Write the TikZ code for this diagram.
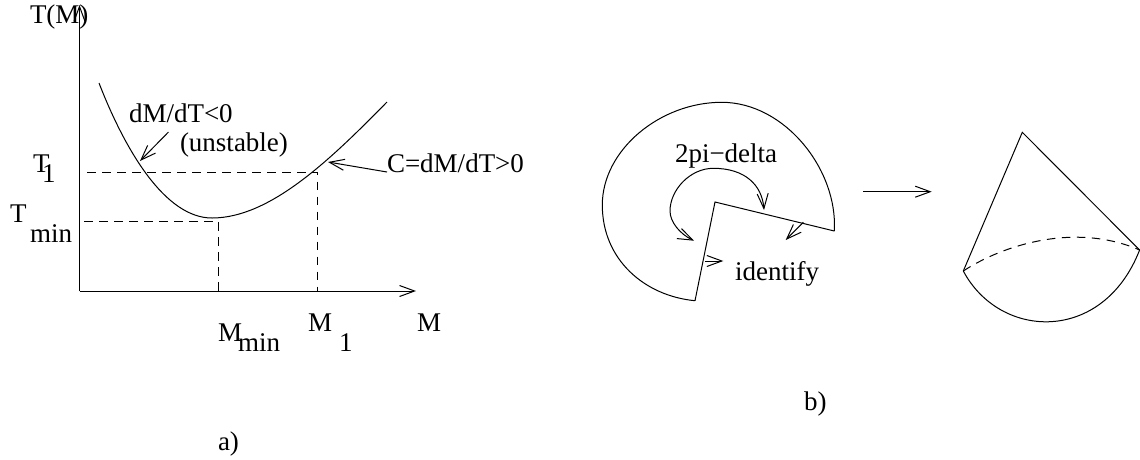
\documentclass[tikz,border=0pt]{standalone}
\usepackage{fontspec}
\setmainfont{Liberation Serif}
\usetikzlibrary{arrows.meta}
\tikzset{
  ink/.style={line width=1pt,black},
  dashline/.style={ink,dash pattern=on 8.5pt off 6.5pt},
  barb/.style={ink,-{Straight Barb[length=15pt,width=11pt,line width=1pt]}},
  twobarb/.style={ink,{Straight Barb[length=15pt,width=11pt,line width=1pt]}-{Straight Barb[length=15pt,width=11pt,line width=1pt]}},
  lab/.style={anchor=base west,inner sep=0pt,outer sep=0pt,font=\fontsize{27}{30}\selectfont},
}
\begin{document}
\begin{tikzpicture}[x=1pt,y=-1pt]
\useasboundingbox (0,0) rectangle (1140,459);
% axes
\coordinate (o) at (79.5,291);
\coordinate (ytip) at (79.5,5);
\coordinate (xtip) at (416,291);
\draw[barb] (o) -- (ytip);
\draw[barb] (o) -- (xtip);
% curve
\coordinate (cs) at (99,83);
\coordinate (cm) at (212,218);
\coordinate (ce) at (387,102);
\draw[ink] (cs) .. controls (125,150) and (165,218) .. (cm) .. controls (270,218) and (330,160) .. (ce);
% guides
\coordinate (t1) at (87,172);
\coordinate (p1) at (317.5,172);
\coordinate (m1) at (317.5,291);
\coordinate (t2) at (84,221);
\coordinate (p2) at (218,221);
\coordinate (m2) at (218,291);
\draw[dashline] (t1) -- (p1) -- (m1);
\draw[dashline] (t2) -- (p2) -- (m2);
% pointers
\coordinate (a1) at (168.5,132);
\coordinate (a2) at (140,161);
\coordinate (c1) at (387,172);
\coordinate (c2) at (328,162);
\draw[barb] (a1) -- (a2);
\draw[barb] (c1) -- (c2);
% labels a
\node[lab] (tm) at (30,23) {T(M)};
\node[lab] (tone) at (33,172) {T};
\node[lab] (toneb) at (42,182) {1};
\node[lab] (tmin) at (10,222) {T};
\node[lab] (tminb) at (30,242) {min};
\node[lab] (mmin) at (218,341) {M};
\node[lab] (mminb) at (238,351) {min};
\node[lab] (mone) at (308,331) {M};
\node[lab] (moneb) at (339,351) {1};
\node[lab] (mm) at (417,331) {M};
\node[lab] (dm) at (129,122) {dM/dT<0};
\node[lab] (un) at (180,151) {(unstable)};
\node[lab] (cc) at (387,172) {C=dM/dT>0};
\node[lab] (la) at (218,450) {a)};
% sector
\coordinate (apex) at (715,202);
\coordinate (re) at (834.3,231);
\coordinate (le) at (695,300.7);
\coordinate (st) at (721.7,102.3);
\coordinate (sl) at (602.3,205);
\draw[ink] (le) -- (apex) -- (re);
\draw[ink] (re) .. controls (838,170) and (785,102.3) .. (st) .. controls (660,102.3) and (602.3,150) .. (sl) .. controls (602.3,260) and (645,296) .. (le);
% sweep
\coordinate (s1t) at (764,210);
\coordinate (sa) at (713.3,168.3);
\coordinate (sb) at (670,211);
\coordinate (s2t) at (694,240.7);
\draw[twobarb] (s2t) .. controls (680,234) and (670,222) .. (sb) .. controls (670,190) and (690,168.3) .. (sa) .. controls (745,168.3) and (762,185) .. (s1t);
\coordinate (i1) at (803.3,222.3);
\coordinate (i2) at (785.7,240);
\coordinate (i3) at (705,261);
\coordinate (i4) at (723.3,261);
\draw[barb] (i1) -- (i2);
\draw[barb] (i3) -- (i4);
\node[lab] (pi) at (675,162) {2pi−delta};
\node[lab] (id) at (735,280.5) {identify};
\node[lab] (lb) at (804,410) {b)};
% map arrow
\coordinate (ma) at (863.3,191.7);
\coordinate (mb) at (931.7,191.7);
\draw[barb] (ma) -- (mb);
% cone
\coordinate (ca) at (1022.3,132.3);
\coordinate (cr) at (1139.6,250);
\coordinate (cl) at (963.3,271);
\draw[ink] (cl) -- (ca) -- (cr);
\draw[ink] (cl) .. controls (1000,340) and (1103,344) .. (cr);
\draw[dashline] (cl) .. controls (1003,245) and (1075,222) .. (cr);
\end{tikzpicture}
\end{document}
